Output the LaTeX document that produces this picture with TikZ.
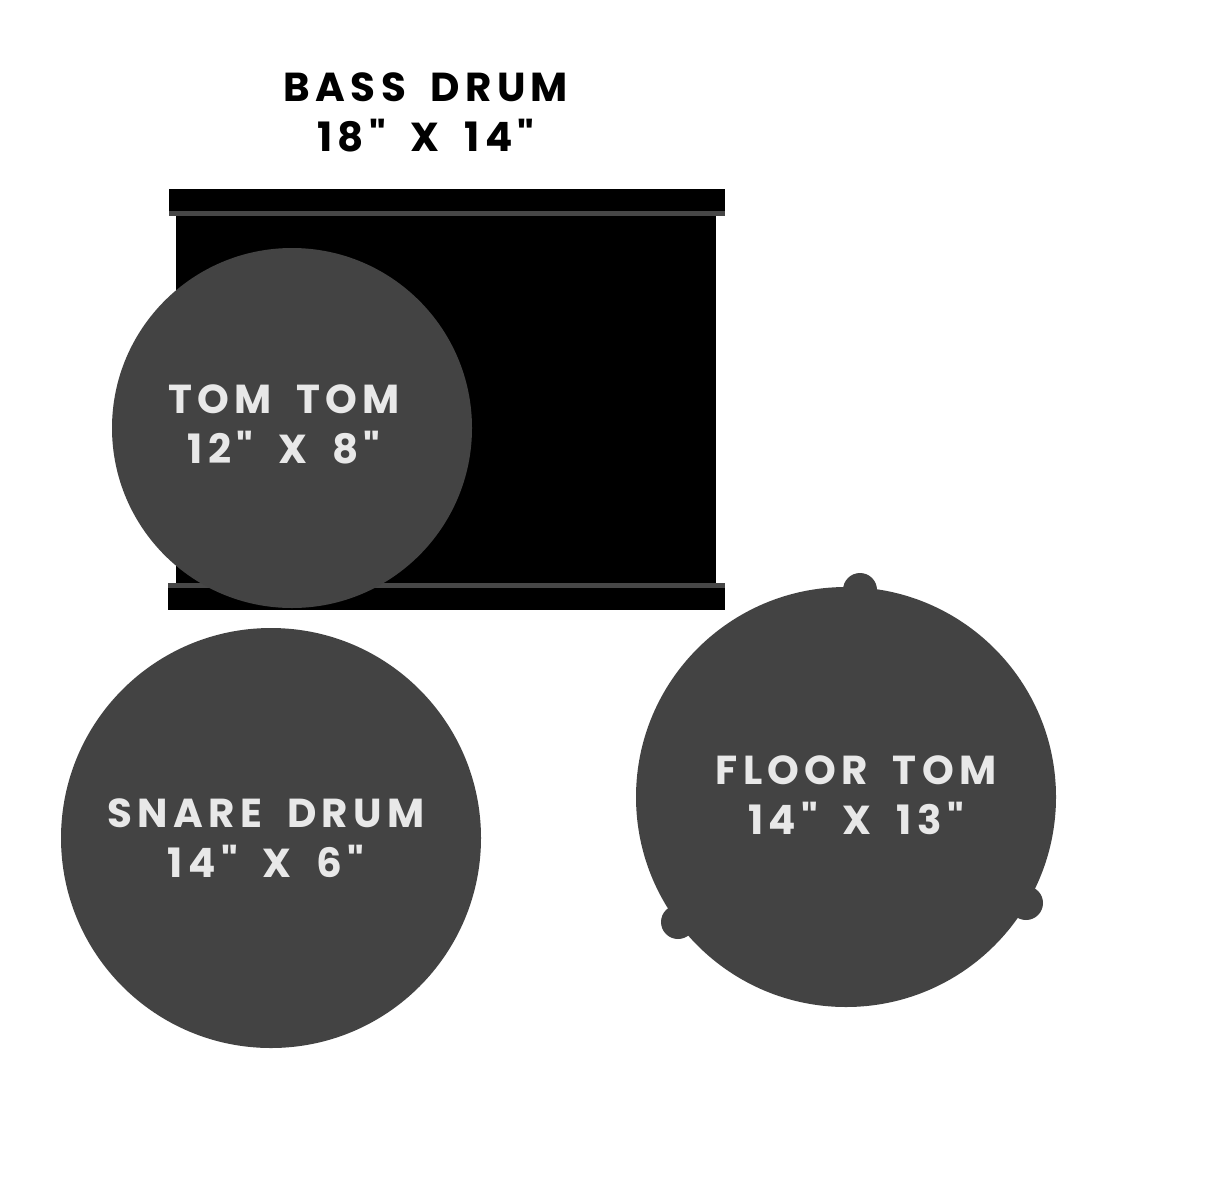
\documentclass[tikz,border=0pt]{standalone}
\usepackage{fontspec}
\newfontfamily\drumfont[LetterSpace=13,WordSpace=1.8]{Poppins}
\definecolor{drumgray}{HTML}{434343}
\definecolor{rimgray}{HTML}{474747}
\definecolor{labelgray}{HTML}{E8E8E8}
\begin{document}
\begin{tikzpicture}[x=0.01cm,y=-0.01cm,
  drumlabel/.style={align=center,inner sep=0pt,font=\drumfont\bfseries\fontsize{11.5}{14.2}\selectfont}]
\useasboundingbox[fill=white] (0,0) rectangle (1222,1179);
% bass drum (side view)
\fill[black] (176,214) rectangle (716,586);
\fill[black] (169,189) rectangle (725,211);
\fill[rimgray] (169,211) rectangle (725,216);
\fill[rimgray] (168,583) rectangle (725,588);
\fill[black] (168,588) rectangle (725,610);
\node[drumlabel,text=black] (bass) at (426,112) {BASS DRUM\\18" X 14"};
% tom tom
\fill[drumgray] (292,428) circle[radius=180];
\node[drumlabel,text=labelgray] (tom) at (284,424) {TOM TOM\\12" X 8"};
% snare drum
\fill[drumgray] (271,838) circle[radius=210];
\node[drumlabel,text=labelgray] (snare) at (266,838) {SNARE DRUM\\14" X 6"};
% floor tom with legs
\fill[drumgray] (860,590) circle[radius=17];
\fill[drumgray] (678,922) circle[radius=17];
\fill[drumgray] (1026,903) circle[radius=17];
\fill[drumgray] (846,797) circle[radius=210];
\node[drumlabel,text=labelgray] (floor) at (856,795) {FLOOR TOM\\14" X 13"};
\end{tikzpicture}
\end{document}
